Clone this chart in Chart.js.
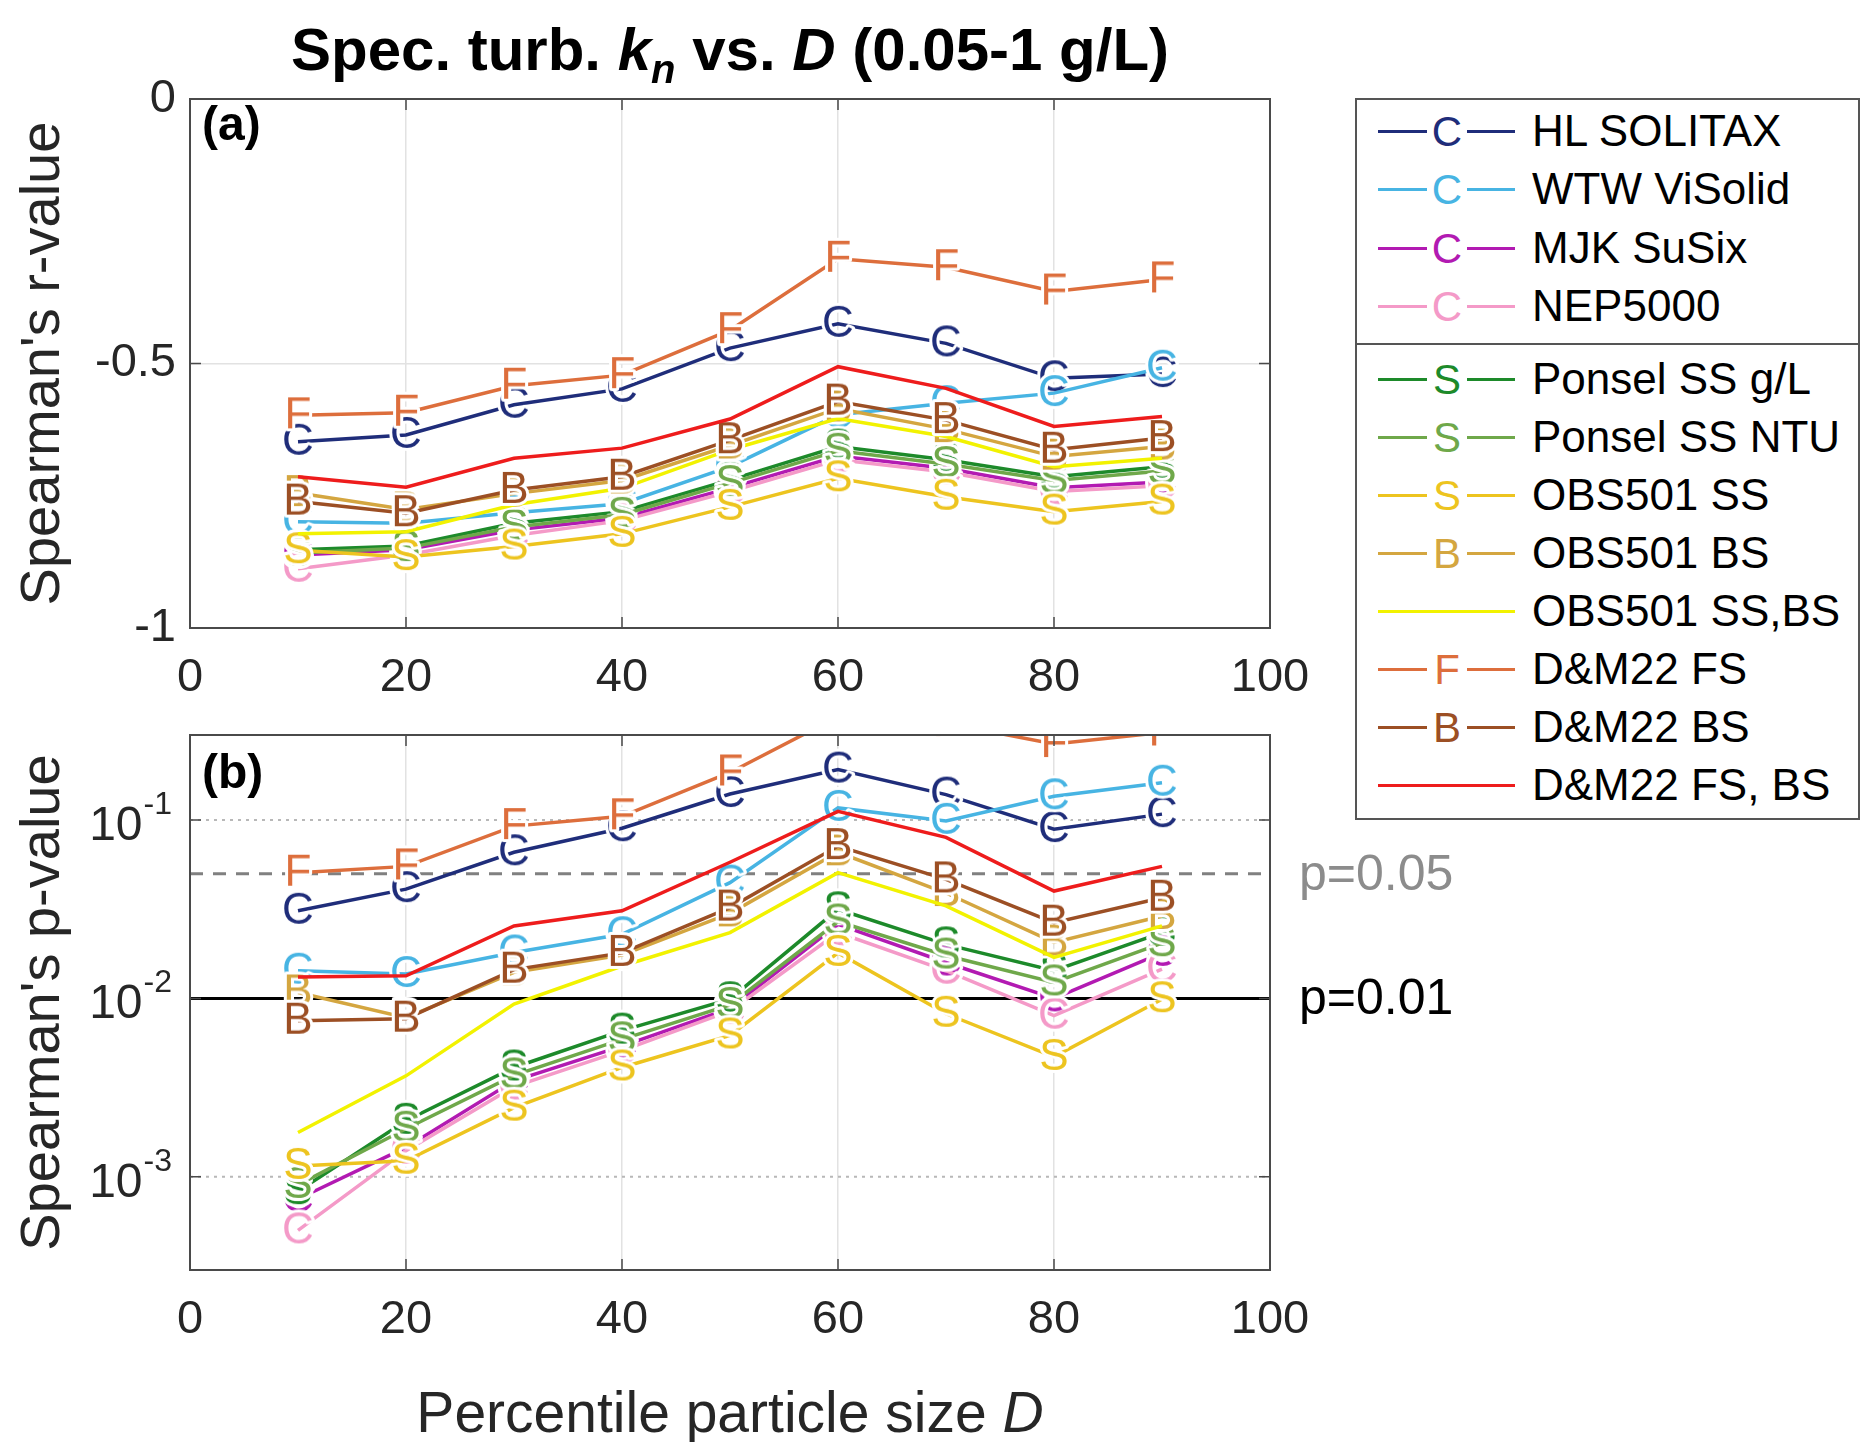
<!DOCTYPE html>
<html>
<head>
<meta charset="utf-8">
<script src="https://cdn.jsdelivr.net/npm/chart.js@4.4.1/dist/chart.umd.min.js"></script>
<style>
  html, body { margin: 0; padding: 0; background: #fff; }
  body { width: 1864px; height: 1442px; position: relative; overflow: hidden;
         font-family: "Liberation Sans", Arial, Helvetica, sans-serif; }
  canvas { position: absolute; }
  #title { position: absolute; left: 230px; width: 1000px; top: 14px; text-align: center;
           font-weight: bold; font-size: 60px; line-height: 72px; color: #000; white-space: nowrap; }
  #xlabel { position: absolute; left: 230px; width: 1000px; top: 1380px; text-align: center;
            font-size: 57px; line-height: 64px; color: #262626; white-space: nowrap; }
  .legend { position: absolute; left: 1355px; width: 505px; border: 2px solid #555;
            background: #fff; box-sizing: border-box; }
  .row { position: absolute; left: 0; right: 0; height: 58px; }
  .sample { position: absolute; left: 21px; width: 137px; top: 28px; height: 0; border-top: 3px solid; }
  .mark { position: absolute; left: 70px; width: 40px; top: 0; height: 58px; line-height: 60px;
          text-align: center; font-size: 42px; background: #fff; }
  .label { position: absolute; left: 175px; top: 0; line-height: 58px; font-size: 44px;
           color: #000; white-space: nowrap; }
</style>
</head>
<body>
<canvas id="chart-r" width="1340" height="700" style="left:0;top:0"></canvas>
<canvas id="chart-p" width="1500" height="750" style="left:0;top:700px"></canvas>
<div id="title">Spec. turb. <i>k<sub style="font-size:40px">n</sub></i> vs. <i>D</i> (0.05-1 g/L)</div>
<div id="xlabel">Percentile particle size <i>D</i></div>
<div class="legend" id="legend-1" style="top:98px;height:247px"></div>
<div class="legend" id="legend-2" style="top:343px;height:477px"></div>

<script>
// ---- data ----
const X_PCT = [10, 20, 30, 40, 50, 60, 70, 80, 90];
const X_TICKS = [0, 20, 40, 60, 80, 100];
const R_TICKS = [-1, -0.5, 0];
const P_TICKS = [1e-3, 1e-2, 1e-1];
const P_EXPONENTS = ['-3', '-2', '-1'];
const P_LIMITS = [0.05, 0.01];
const P_LIMIT_LABELS = ['p=0.05', 'p=0.01'];

const NAMES = ['HL SOLITAX', 'WTW ViSolid', 'MJK SuSix', 'NEP5000',
  'Ponsel SS g/L', 'Ponsel SS NTU', 'OBS501 SS', 'OBS501 BS', 'OBS501 SS,BS',
  'D&M22 FS', 'D&M22 BS', 'D&M22 FS, BS'];
const LETTERS = ['C', 'C', 'C', 'C', 'S', 'S', 'S', 'B', '', 'F', 'B', ''];
const COLORS = ['#1f2d7a', '#47b4e3', '#b21ab2', '#f49ac8', '#1d8a2a', '#6fa84a',
  '#edc41f', '#d4a640', '#f2f200', '#dd6e3c', '#9c4f24', '#ee1c1c'];

// (a) Spearman r
const R_HL_SOLITAX   = [-0.648, -0.635, -0.578, -0.548, -0.471, -0.425, -0.462, -0.528, -0.520];
const R_WTW_VISOLID  = [-0.799, -0.802, -0.782, -0.765, -0.695, -0.597, -0.575, -0.556, -0.508];
const R_MJK_SUSIX    = [-0.862, -0.852, -0.815, -0.792, -0.735, -0.675, -0.698, -0.735, -0.724];
const R_NEP5000      = [-0.888, -0.862, -0.825, -0.797, -0.742, -0.682, -0.705, -0.742, -0.731];
const R_PONSEL_GL    = [-0.852, -0.845, -0.802, -0.780, -0.720, -0.657, -0.682, -0.714, -0.695];
const R_PONSEL_NTU   = [-0.858, -0.849, -0.809, -0.786, -0.726, -0.665, -0.690, -0.721, -0.703];
const R_OBS_SS       = [-0.853, -0.866, -0.846, -0.822, -0.771, -0.717, -0.752, -0.780, -0.761];
const R_OBS_BS       = [-0.745, -0.776, -0.746, -0.721, -0.655, -0.585, -0.624, -0.676, -0.657];
const R_OBS_SSBS     = [-0.822, -0.818, -0.767, -0.736, -0.663, -0.604, -0.638, -0.695, -0.679];
const R_DM_FS        = [-0.598, -0.593, -0.542, -0.522, -0.437, -0.302, -0.318, -0.364, -0.341];
const R_DM_BS        = [-0.761, -0.783, -0.739, -0.714, -0.645, -0.572, -0.607, -0.663, -0.641];
const R_DM_FSBS      = [-0.714, -0.734, -0.679, -0.660, -0.605, -0.506, -0.547, -0.619, -0.600];

// (b) Spearman p
const P_HL_SOLITAX   = [0.031, 0.041, 0.066, 0.090, 0.140, 0.192, 0.139, 0.089, 0.108];
const P_WTW_VISOLID  = [0.0143, 0.0137, 0.0181, 0.0229, 0.0446, 0.117, 0.099, 0.136, 0.162];
const P_MJK_SUSIX    = [0.00075, 0.00146, 0.00345, 0.0054, 0.0088, 0.026, 0.0159, 0.0100, 0.018];
const P_NEP5000      = [0.00050, 0.00140, 0.0032, 0.0051, 0.0085, 0.0234, 0.0143, 0.0080, 0.0146];
const P_PONSEL_GL    = [0.00083, 0.00206, 0.0041, 0.0066, 0.0099, 0.0316, 0.0201, 0.0143, 0.0234];
const P_PONSEL_NTU   = [0.00090, 0.00186, 0.0037, 0.0059, 0.0092, 0.027, 0.0174, 0.0123, 0.0204];
const P_OBS_SS       = [0.00115, 0.00123, 0.00244, 0.0041, 0.0062, 0.018, 0.0082, 0.0047, 0.0099];
const P_OBS_BS       = [0.0108, 0.0078, 0.014, 0.0175, 0.030, 0.066, 0.039, 0.0206, 0.029];
const P_OBS_SSBS     = [0.00177, 0.00368, 0.0093, 0.0152, 0.0234, 0.0507, 0.033, 0.017, 0.0255];
const P_DM_FS        = [0.0507, 0.055, 0.0925, 0.105, 0.185, 0.38, 0.35, 0.267, 0.31];
const P_DM_BS        = [0.0075, 0.0077, 0.0145, 0.018, 0.0323, 0.0715, 0.0465, 0.0266, 0.0367];
const P_DM_FSBS      = [0.0132, 0.0134, 0.0255, 0.031, 0.058, 0.112, 0.080, 0.040, 0.055];

const R_VALUES = [R_HL_SOLITAX, R_WTW_VISOLID, R_MJK_SUSIX, R_NEP5000, R_PONSEL_GL, R_PONSEL_NTU,
  R_OBS_SS, R_OBS_BS, R_OBS_SSBS, R_DM_FS, R_DM_BS, R_DM_FSBS];
const P_VALUES = [P_HL_SOLITAX, P_WTW_VISOLID, P_MJK_SUSIX, P_NEP5000, P_PONSEL_GL, P_PONSEL_NTU,
  P_OBS_SS, P_OBS_BS, P_OBS_SSBS, P_DM_FS, P_DM_BS, P_DM_FSBS];

// ---- look ----
const FONT = '"Liberation Sans", Arial, Helvetica, sans-serif';
const AXIS_COLOR = '#262626';
const GRID_COLOR = '#e2e2e2';
Chart.defaults.font.family = FONT;
Chart.defaults.color = AXIS_COLOR;

// letter markers, white halo so the line stops short of the glyph
function letterMarker(letter, color) {
  const c = document.createElement('canvas');
  c.width = 46; c.height = 50;
  const g = c.getContext('2d');
  g.font = '44px ' + FONT;
  g.textAlign = 'center';
  g.textBaseline = 'middle';
  g.lineJoin = 'round';
  g.lineWidth = 6;
  g.strokeStyle = '#fff';
  g.strokeText(letter, 23, 26);
  g.fillStyle = color;
  g.fillText(letter, 23, 26);
  return c;
}
const MARKERS = LETTERS.map((l, i) => l ? letterMarker(l, COLORS[i]) : false);

function makeDatasets(values) {
  return NAMES.map((name, i) => ({
    label: name,
    data: X_PCT.map((x, j) => ({ x: x, y: values[i][j] })),
    borderColor: COLORS[i],
    backgroundColor: COLORS[i],
    borderWidth: 3.5,
    pointStyle: MARKERS[i],
    pointRadius: LETTERS[i] ? 12 : 0,
    pointHoverRadius: 0,
    order: NAMES.length - i,
    tension: 0
  }));
}

// matlab style box + inward ticks + panel tag
function boxPlugin(tag, yTicks, tagDy) {
  return {
    id: 'box-' + tag,
    afterDraw(chart) {
      const { ctx, chartArea: a, scales } = chart;
      ctx.save();
      ctx.strokeStyle = '#4a4a4a';
      ctx.lineWidth = 1.5;
      X_TICKS.forEach(v => {
        const x = scales.x.getPixelForValue(v);
        ctx.beginPath();
        ctx.moveTo(x, a.bottom); ctx.lineTo(x, a.bottom - 11);
        ctx.moveTo(x, a.top); ctx.lineTo(x, a.top + 11);
        ctx.stroke();
      });
      yTicks.forEach(v => {
        const y = scales.y.getPixelForValue(v);
        ctx.beginPath();
        ctx.moveTo(a.left, y); ctx.lineTo(a.left + 11, y);
        ctx.moveTo(a.right, y); ctx.lineTo(a.right - 11, y);
        ctx.stroke();
      });
      ctx.lineWidth = 2;
      ctx.strokeRect(a.left, a.top, a.right - a.left, a.bottom - a.top);
      ctx.fillStyle = '#000';
      ctx.font = 'bold 48px ' + FONT;
      ctx.textAlign = 'left';
      ctx.textBaseline = 'middle';
      ctx.fillText(tag, a.left + 12, a.top + tagDy);
      ctx.restore();
    }
  };
}

const pLevels = {
  id: 'pLevels',
  beforeDatasetsDraw(chart) {
    const { ctx, chartArea: a, scales } = chart;
    ctx.save();
    // dotted decade grid
    ctx.strokeStyle = '#b8b8b8';
    ctx.lineWidth = 2;
    ctx.setLineDash([3, 5]);
    P_TICKS.forEach(v => {
      const y = scales.y.getPixelForValue(v);
      ctx.beginPath(); ctx.moveTo(a.left, y); ctx.lineTo(a.right, y); ctx.stroke();
    });
    // significance levels
    const styles = [{ c: '#808080', d: [13, 10] }, { c: '#000', d: [] }];
    P_LIMITS.forEach((v, i) => {
      const y = scales.y.getPixelForValue(v);
      ctx.strokeStyle = styles[i].c;
      ctx.lineWidth = 3;
      ctx.setLineDash(styles[i].d);
      ctx.beginPath(); ctx.moveTo(a.left, y); ctx.lineTo(a.right, y); ctx.stroke();
    });
    ctx.restore();
  },
  afterDraw(chart) {
    const { ctx, chartArea: a, scales } = chart;
    ctx.save();
    ctx.textBaseline = 'middle';
    ctx.font = '50px ' + FONT;
    ctx.textAlign = 'left';
    const labelColors = ['#8c8c8c', '#000'];
    P_LIMITS.forEach((v, i) => {
      ctx.fillStyle = labelColors[i];
      ctx.fillText(P_LIMIT_LABELS[i], a.right + 29, scales.y.getPixelForValue(v) + 2);
    });
    // log tick labels 10^n
    ctx.fillStyle = AXIS_COLOR;
    P_TICKS.forEach((v, i) => {
      const y = scales.y.getPixelForValue(v);
      ctx.font = '32px ' + FONT;
      ctx.textAlign = 'right';
      ctx.textBaseline = 'alphabetic';
      const right = a.left - 18;
      const w = ctx.measureText(P_EXPONENTS[i]).width;
      ctx.fillText(P_EXPONENTS[i], right, y - 6);
      ctx.font = '48px ' + FONT;
      ctx.fillText('10', right - w - 1, y + 20);
    });
    ctx.restore();
  }
};

const xScale = (height, pad) => ({
  type: 'linear', min: 0, max: 100,
  ticks: { stepSize: 20, padding: pad, maxRotation: 0, font: { size: 47 }, color: AXIS_COLOR },
  grid: { color: GRID_COLOR, lineWidth: 1.5, drawTicks: false },
  border: { display: false },
  afterFit: s => { s.height = height; }
});

const yTitle = text => ({
  display: true, text: text, color: AXIS_COLOR,
  font: { size: 56 }, padding: { top: 10, bottom: 0 }
});

new Chart(document.getElementById('chart-r'), {
  type: 'line',
  data: { datasets: makeDatasets(R_VALUES) },
  options: {
    responsive: false, animation: false,
    layout: { padding: { left: 0, top: 99, right: 1340 - 1270, bottom: 0 } },
    plugins: { legend: { display: false }, tooltip: { enabled: false } },
    scales: {
      x: xScale(72, 22),
      y: {
        type: 'linear', min: -1, max: 0,
        ticks: { stepSize: 0.5, padding: 14, font: { size: 47 }, color: AXIS_COLOR,
                 callback: v => String(v) },
        grid: { color: GRID_COLOR, lineWidth: 1.5, drawTicks: false },
        border: { display: false },
        title: yTitle("Spearman's r-value"),
        afterFit: s => { s.width = 190; }
      }
    }
  },
  plugins: [boxPlugin('(a)', R_TICKS, 28)]
});

new Chart(document.getElementById('chart-p'), {
  type: 'line',
  data: { datasets: makeDatasets(P_VALUES) },
  options: {
    responsive: false, animation: false,
    layout: { padding: { left: 0, top: 35, right: 1500 - 1270, bottom: 0 } },
    plugins: { legend: { display: false }, tooltip: { enabled: false } },
    scales: {
      x: xScale(180, 22),
      y: {
        type: 'logarithmic', min: 3e-4, max: 0.3,
        afterBuildTicks: s => { s.ticks = P_TICKS.map(v => ({ value: v })); },
        ticks: { display: false },
        grid: { display: false },
        border: { display: false },
        title: yTitle("Spearman's p-value"),
        afterFit: s => { s.width = 190; }
      }
    }
  },
  plugins: [pLevels, boxPlugin('(b)', P_TICKS, 40)]
});

// ---- legend (two stacked boxes as in the figure) ----
function legendRow(i, top) {
  const row = document.createElement('div');
  row.className = 'row';
  row.style.top = top + 'px';
  const line = document.createElement('div');
  line.className = 'sample';
  line.style.borderTopColor = COLORS[i];
  row.appendChild(line);
  if (LETTERS[i]) {
    const m = document.createElement('div');
    m.className = 'mark';
    m.style.color = COLORS[i];
    m.textContent = LETTERS[i];
    row.appendChild(m);
  }
  const t = document.createElement('div');
  t.className = 'label';
  t.textContent = NAMES[i];
  row.appendChild(t);
  return row;
}
const lg1 = document.getElementById('legend-1');
const lg2 = document.getElementById('legend-2');
NAMES.forEach((n, i) => {
  if (i < 4) lg1.appendChild(legendRow(i, 2 + i * 58.3));
  else lg2.appendChild(legendRow(i, 5 + (i - 4) * 58));
});
</script>
</body>
</html>
